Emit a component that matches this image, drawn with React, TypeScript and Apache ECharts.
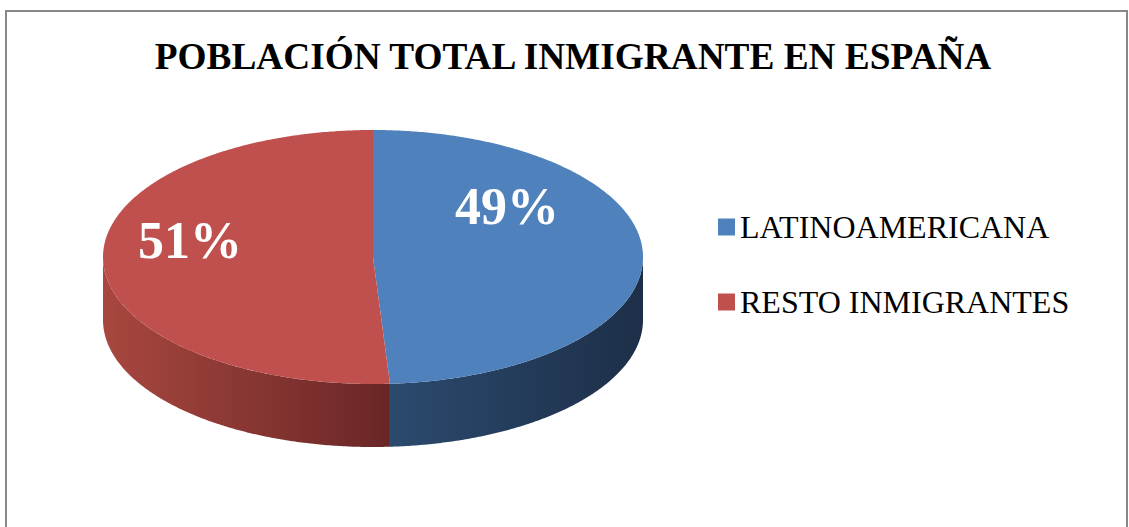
import React, { useEffect, useRef } from "react";
import * as echarts from "echarts";

const categories = ["LATINOAMERICANA", "RESTO INMIGRANTES"];
const values = [49, 51];
const titleText = "POBLACIÓN TOTAL INMIGRANTE EN ESPAÑA";

const topColors = ["#4F81BD", "#C0504D"];
const sideColors = [
  ["#2B4A6E", "#1D2F48"],
  ["#A8473F", "#692626"],
];

// layout (pixels)
const CX = 373;
const CY = 257;
const RX = 270;
const RY = 127;
const DEPTH = 63;
const labelOffsets = [
  [134, -51],
  [-183, -17],
];

function pt(deg: number, dy = 0): number[] {
  const r = (deg * Math.PI) / 180;
  return [CX + RX * Math.sin(r), CY - RY * Math.cos(r) + dy];
}

function arcPoints(a: number, b: number, dy = 0): number[][] {
  const pts: number[][] = [];
  const n = Math.max(2, Math.ceil(Math.abs(b - a) / 0.5));
  for (let k = 0; k <= n; k++) pts.push(pt(a + ((b - a) * k) / n, dy));
  return pts;
}

function makeRender(i: number) {
  return (params: any, api: any) => {
    const total = values.reduce((s, v) => s + v, 0);
    const before = values.slice(0, i).reduce((s, v) => s + v, 0);
    const val = api.value(0);
    const start = (before / total) * 360;
    const end = start + (val / total) * 360;
    const children: any[] = [];
    // side face (front visible part: 90..270)
    const a = Math.max(start, 90);
    const b = Math.min(end, 270);
    if (b > a) {
      const top = arcPoints(a, b, 0);
      const bottom = arcPoints(b, a, DEPTH);
      children.push({
        type: "polygon",
        shape: { points: top.concat(bottom) },
        style: {
          fill: new echarts.graphic.LinearGradient(0, 0, 1, 0, [
            { offset: 0, color: sideColors[i][0] },
            { offset: 1, color: sideColors[i][1] },
          ]),
        },
      });
    }
    // top face
    const topPts = [[CX, CY]].concat(arcPoints(start, end, 0));
    children.push({
      type: "polygon",
      shape: { points: topPts },
      style: { fill: topColors[i] },
    });
    const pct = Math.round((val / total) * 100) + "%";
    children.push({
      type: "text",
      x: CX + labelOffsets[i][0],
      y: CY + labelOffsets[i][1],
      style: {
        text: pct,
        fill: "#ffffff",
        fontFamily: "Liberation Serif",
        fontWeight: "bold",
        fontSize: 52,
        align: "center",
        verticalAlign: "middle",
        textAlign: "center",
        textVerticalAlign: "middle",
      },
    });
    return { type: "group", children };
  };
}

export default function App() {
  const ref = useRef<HTMLDivElement>(null);
  useEffect(() => {
    if (!ref.current) return;
    const chart = echarts.init(ref.current, null, { renderer: "svg" });
    chart.setOption({
      animation: false,
      backgroundColor: "#ffffff",
      title: {
        text: titleText,
        left: 568,
        textAlign: "center",
        top: 33,
        textStyle: {
          fontFamily: "Liberation Serif",
          fontWeight: "bold",
          fontSize: 37.3,
          color: "#000000",
        },
      },
      legend: {
        data: categories,
        orient: "vertical",
        left: 713,
        top: 206,
        itemGap: 43,
        itemWidth: 17,
        itemHeight: 17,
        icon: "rect",
        selectedMode: false,
        textStyle: {
          fontFamily: "Liberation Serif",
          fontSize: 32,
          color: "#000000",
        },
      },
      graphic: [
        {
          type: "rect",
          shape: { x: 6, y: 11, width: 1121, height: 600 },
          style: { fill: "none", stroke: "#888888", lineWidth: 2 },
          silent: true,
        },
      ],
      series: categories.map((name, i) => ({
        type: "custom",
        name,
        coordinateSystem: "none",
        silent: true,
        itemStyle: { color: topColors[i] },
        data: [[values[i]]],
        renderItem: makeRender(i),
      })),
    });
    return () => chart.dispose();
  }, []);
  return (
    <div
      ref={ref}
      style={{ position: "fixed", left: 0, top: 0, width: 1129, height: 527 }}
    />
  );
}
